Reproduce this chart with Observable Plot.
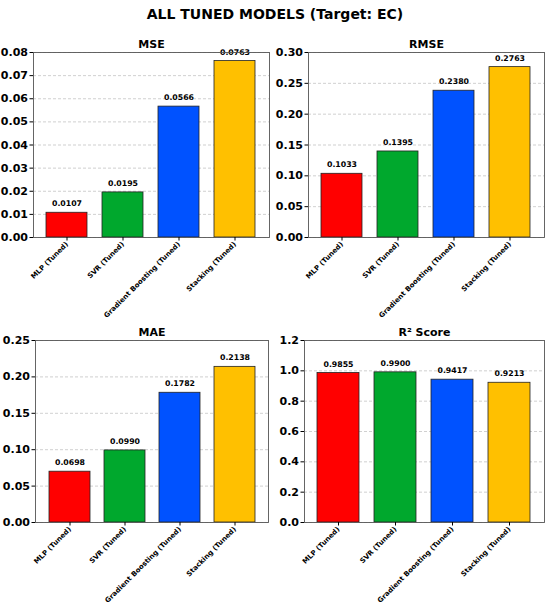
<!DOCTYPE html>
<html>
<head>
<meta charset="utf-8">
<script src="https://cdn.jsdelivr.net/npm/d3@7"></script>
<script src="https://cdn.jsdelivr.net/npm/@observablehq/plot@0.6"></script>
<style>
  html, body { margin: 0; padding: 0; background: #fff; }
  #wrap { position: relative; width: 550px; height: 610px; overflow: hidden; font-family: "DejaVu Sans", sans-serif; }
  #title { position: absolute; left: 0; top: 5px; width: 550px; text-align: center; font-size: 14px; font-weight: bold; line-height: 18px; color: #000; }
  .panel { position: absolute; }
  .panel svg { background: transparent; overflow: visible; }
</style>
</head>
<body>
<div id="wrap">
  <div id="title">ALL TUNED MODELS (Target: EC)</div>
</div>
<script>
const models = ["MLP (Tuned)", "SVR (Tuned)", "Gradient Boosting (Tuned)", "Stacking (Tuned)"];
const barColors = ["#ff0000", "#00a82d", "#0052ff", "#ffc000"];
const mseValues = [0.0107, 0.0195, 0.0566, 0.0763];
const rmseValues = [0.1033, 0.1395, 0.2380, 0.2763];
const maeValues = [0.0698, 0.0990, 0.1782, 0.2138];
const r2Values = [0.9855, 0.9900, 0.9417, 0.9213];
const mseTicks = [0, 0.01, 0.02, 0.03, 0.04, 0.05, 0.06, 0.07, 0.08];
const rmseTicks = [0, 0.05, 0.10, 0.15, 0.20, 0.25, 0.30];
const maeTicks = [0, 0.05, 0.10, 0.15, 0.20, 0.25];
const r2Ticks = [0, 0.2, 0.4, 0.6, 0.8, 1.0, 1.2];

const panels = [
  {title: "MSE", values: mseValues, ticks: mseTicks, decimals: 2, left: 0, top: 28, mL: 33, mR: 6, mT: 24, fh: 185, mB: 82},
  {title: "RMSE", values: rmseValues, ticks: rmseTicks, decimals: 2, left: 275, top: 28, mL: 33, mR: 6, mT: 24, fh: 185, mB: 82},
  {title: "MAE", values: maeValues, ticks: maeTicks, decimals: 2, left: 0, top: 316, mL: 35, mR: 7, mT: 24, fh: 182, mB: 88},
  {title: "R² Score", values: r2Values, ticks: r2Ticks, decimals: 1, left: 275, top: 316, mL: 29, mR: 6, mT: 24, fh: 182, mB: 88}
];

const wrap = document.getElementById("wrap");
for (const p of panels) {
  const data = models.map((m, i) => ({model: m, value: p.values[i], color: barColors[i]}));
  const ymax = p.ticks[p.ticks.length - 1];
  const chart = Plot.plot({
    width: 275,
    height: p.mT + p.fh + p.mB,
    marginLeft: p.mL,
    marginRight: p.mR,
    marginTop: p.mT,
    marginBottom: p.mB,
    style: {fontFamily: "DejaVu Sans", background: "transparent", color: "#000"},
    x: {domain: models, paddingInner: 0.26, paddingOuter: 0.23, label: null},
    y: {domain: [0, ymax], label: null},
    color: {type: "identity"},
    marks: [
      Plot.gridY(p.ticks, {stroke: "#aaa", strokeOpacity: 0.8, strokeDasharray: "3,2", strokeWidth: 0.7}),
      Plot.barY(data, {x: "model", y: "value", fill: "color", stroke: "#222", strokeWidth: 0.8}),
      Plot.text(data, {x: "model", y: "value", text: d => d.value.toFixed(4), dy: -9, lineAnchor: "middle", fontWeight: "bold", fontSize: 7.8, fill: "#000"}),
      Plot.frame({stroke: "#555", strokeWidth: 0.9}),
      Plot.axisY({ticks: p.ticks, tickFormat: d => d.toFixed(p.decimals), tickSize: 3.5, tickPadding: 2, fontSize: 11, fontWeight: "bold", label: null}),
      Plot.axisX({tickRotate: -45, tickSize: 3.5, tickPadding: 2, fontSize: 7, fontWeight: "bold", label: null}),
      Plot.text([p.title], {frameAnchor: "top", dy: -8, lineAnchor: "middle", fontWeight: "bold", fontSize: 11, fill: "#000"})
    ]
  });
  const div = document.createElement("div");
  div.className = "panel";
  div.style.left = p.left + "px";
  div.style.top = p.top + "px";
  div.appendChild(chart);
  wrap.appendChild(div);
}
</script>
</body>
</html>
